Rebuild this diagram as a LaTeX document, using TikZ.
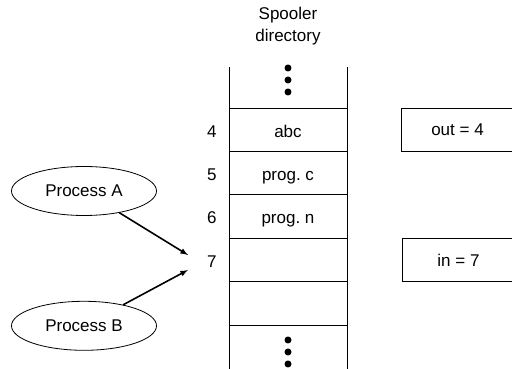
\documentclass[tikz,border=0pt]{standalone}
\usepackage{fontspec}
\setmainfont{Liberation Sans}
\usetikzlibrary{shapes.geometric, arrows, positioning}

\tikzset{
  cell/.style={draw, rectangle, minimum width=118pt, minimum height=43.4pt, inner sep=0pt, outer sep=0pt,
    text height=15pt, text depth=0pt},
  pointer/.style={draw, rectangle, minimum width=113pt, minimum height=43.4pt, inner sep=0pt, outer sep=0pt},
  process/.style={draw, ellipse, minimum width=145pt, minimum height=49pt, inner sep=0pt},
  slot/.style={inner sep=0pt, text height=15pt, text depth=0pt},
  feed/.style={-latex, line width=1.6pt},
}

\begin{document}
\begin{tikzpicture}[x=1pt, y=1pt, line width=0.8pt, font={\fontsize{17}{22}\selectfont}]
\useasboundingbox (0,0) rectangle (512,369);
\clip (0,0) rectangle (512,369);

% Spooler directory
\node[align=center, inner sep=0pt] (title) at (288,343) {Spooler\\directory};
\node[cell] (c4) at (288,239.3) {abc};
\node[cell, below=0pt of c4] (c5) {prog.\ c};
\node[cell, below=0pt of c5] (c6) {prog.\ n};
\node[cell, below=0pt of c6] (c7) {};
\node[cell, below=0pt of c7] (c8) {};

% Slot numbers
\foreach \i in {4,...,7}
  \node[slot, left=12pt of c\i] (n\i) {\i};

% Open ends of the directory
\draw (c4.north west) -- ++(0,41);
\draw (c4.north east) -- ++(0,41);
\draw (c8.south west) -- ++(0,-50);
\draw (c8.south east) -- ++(0,-50);
\foreach \y in {301,289,277}
  \fill (288,\y) circle (3.5);
\foreach \y in {29,17,5}
  \fill (288,\y) circle (3.5);

% Shared variables
\node[pointer, right=54pt of c4] (outptr) {out = 4};
\node[pointer, right=55pt of c7] (inptr) {in = 7};

% Processes
\node[process] (procA) at (84,178) {Process A};
\node[process, below=85pt of procA] (procB) {Process B};
\coordinate (hitA) at (188,114);
\coordinate (hitB) at (188,99);
\draw[feed] (procA) -- (hitA);
\draw[feed] (procB) -- (hitB);
\end{tikzpicture}
\end{document}
